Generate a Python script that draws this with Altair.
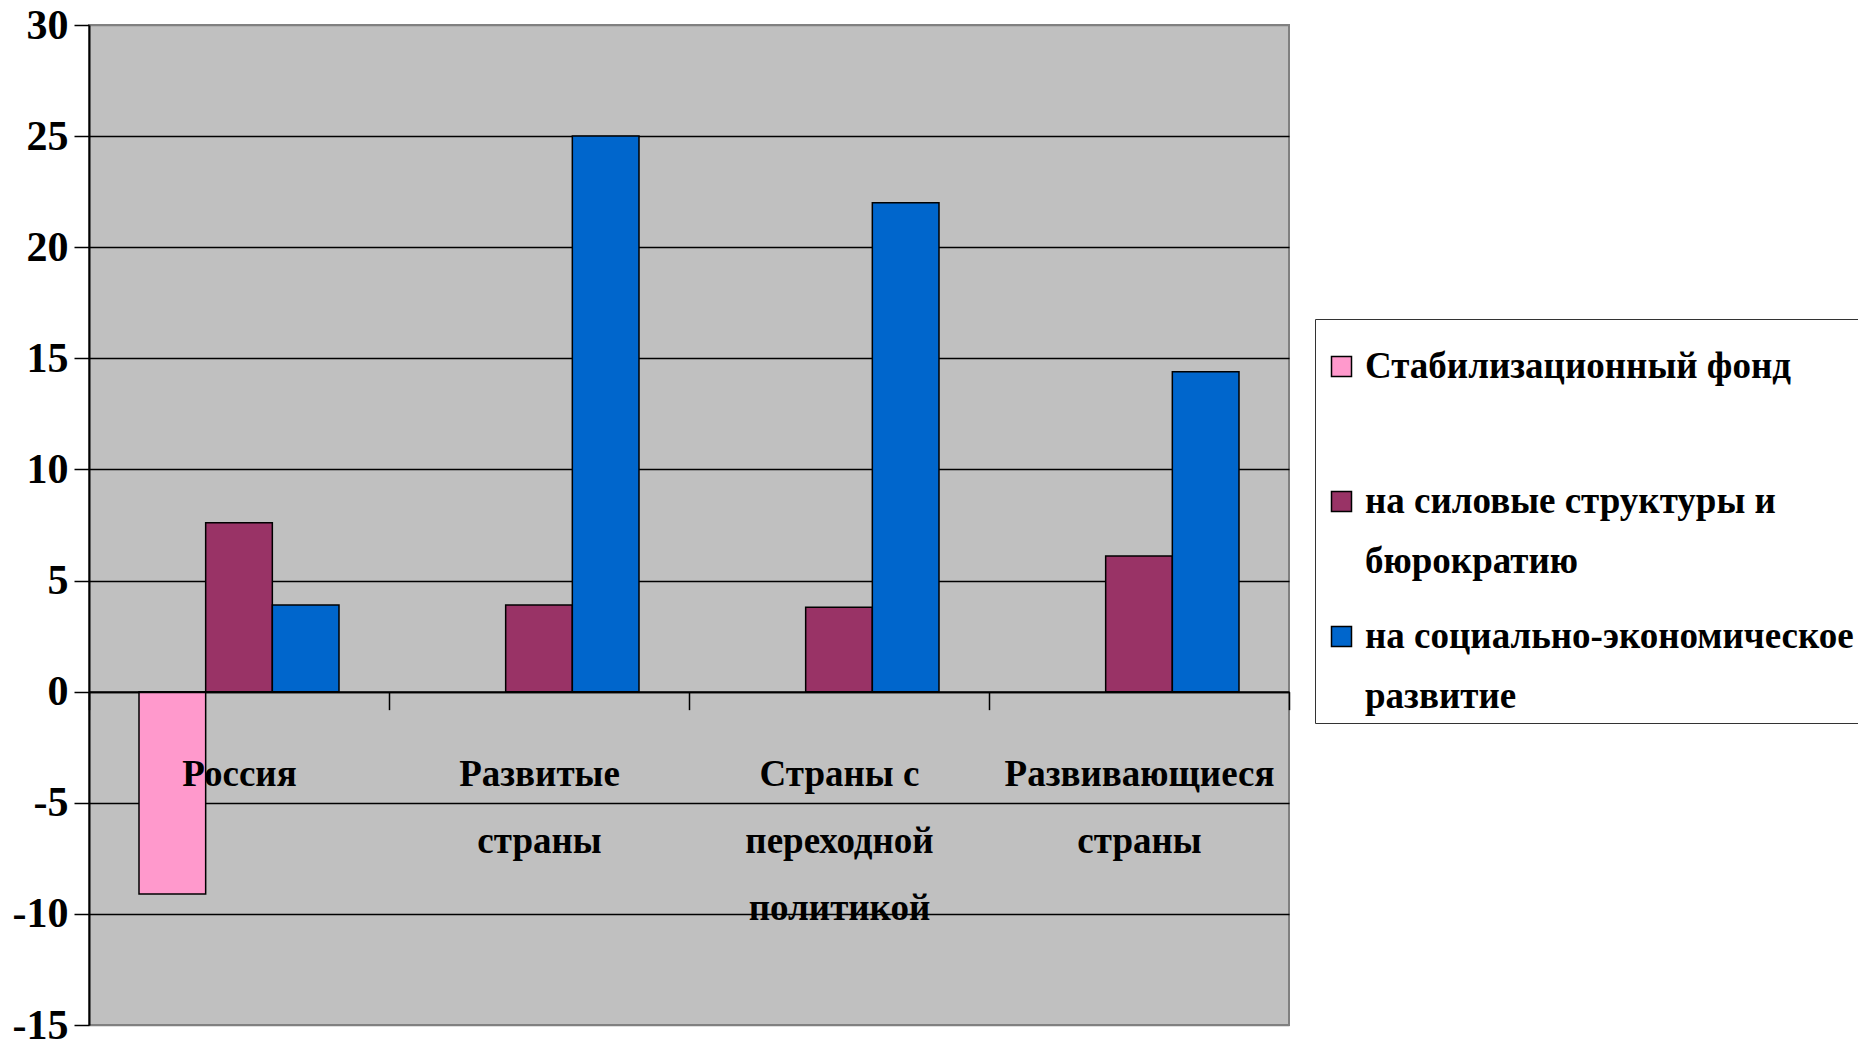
import altair as alt
import pandas as pd

categories = ["Россия", "Развитые\nстраны", "Страны с\nпереходной\nполитикой", "Развивающиеся\nстраны"]
series = [
    "Стабилизационный фонд\n",
    "на силовые структуры и\nбюрократию",
    "на социально-экономическое\nразвитие",
]
stab_fund = [-9.1, None, None, None]
security_bureaucracy = [7.6, 3.9, 3.8, 6.1]
socio_economic = [3.9, 25.0, 22.0, 14.4]
colors = ["#FF99CC", "#993366", "#0066CC"]
y_ticks = [-15, -10, -5, 0, 5, 10, 15, 20, 25, 30]

rows = []
for s, vals in zip(series, [stab_fund, security_bureaucracy, socio_economic]):
    for c, v in zip(categories, vals):
        if v is not None:
            rows.append({"category": c, "series": s, "value": v})
df = pd.DataFrame(rows)

W, H = 1200, 1000
YMIN, YMAX = -15, 30
zero_offset = -H * (0 - YMIN) / (YMAX - YMIN)

FONT = "Liberation Serif"

chart = alt.Chart(df).mark_bar(stroke="black", strokeWidth=1.5).encode(
    x=alt.X(
        "category:N",
        sort=categories,
        scale=alt.Scale(paddingInner=0, paddingOuter=0),
        axis=alt.Axis(
            title=None,
            orient="bottom",
            offset=zero_offset,
            zindex=1,
            domainColor="black",
            domainWidth=2,
            tickColor="black",
            tickWidth=1.5,
            tickSize=18,
            tickBand="extent",
            labelAngle=0,
            labelFont=FONT,
            labelFontSize=37,
            labelFontWeight="bold",
            labelColor="black",
            labelBaseline="top",
            labelLineHeight=67,
            labelPadding=47,
            labelLimit=1000,
            labelOverlap=False,
            labelExpr="split(datum.label, '\\n')",
        ),
    ),
    xOffset=alt.XOffset(
        "series:N",
        sort=series,
        scale=alt.Scale(paddingInner=0, paddingOuter=0.75),
    ),
    y=alt.Y(
        "value:Q",
        scale=alt.Scale(domain=[YMIN, YMAX], nice=False, zero=False),
        axis=alt.Axis(
            title=None,
            values=y_ticks,
            grid=True,
            gridColor={"condition": {"test": "datum.value == 30 || datum.value == -15", "value": "#808080"}, "value": "#000000"},
            gridWidth=1.5,
            domainColor="black",
            domainWidth=2,
            tickColor="black",
            tickWidth=1.5,
            tickSize=15,
            labelFont=FONT,
            labelFontSize=42,
            labelFontWeight="bold",
            labelColor="black",
            labelPadding=6,
            labelExpr="'' + datum.value",
        ),
    ),
    color=alt.Color(
        "series:N",
        sort=series,
        scale=alt.Scale(domain=series, range=colors),
        legend=alt.Legend(
            title=" ",
            titleFontSize=1,
            titlePadding=20,
            orient="none",
            legendX=1226,
            legendY=294,
            padding=8,
            rowPadding=37,
            fillColor="white",
            strokeColor="#333333",
            symbolType="square",
            symbolSize=400,
            symbolStrokeColor="black",
            symbolStrokeWidth=1.5,
            symbolOpacity=1,
            labelFont=FONT,
            labelFontSize=37,
            labelFontWeight="bold",
            labelColor="black",
            labelOffset=5,
            labelLimit=1000,
            labelExpr="split(datum.label, '\\n')",
        ),
    ),
).properties(
    width=W,
    height=H,
    autosize=alt.AutoSizeParams(type="none"),
    padding={"left": 81, "top": 17, "right": 569, "bottom": 22},
).configure(
    background="white",
    style={"guide-label": {"lineHeight": 60}},
).configure_view(
    fill="#C0C0C0", stroke="#808080", strokeWidth=2
)

chart.save("out.html", embed_options={"renderer": "svg", "actions": False})
